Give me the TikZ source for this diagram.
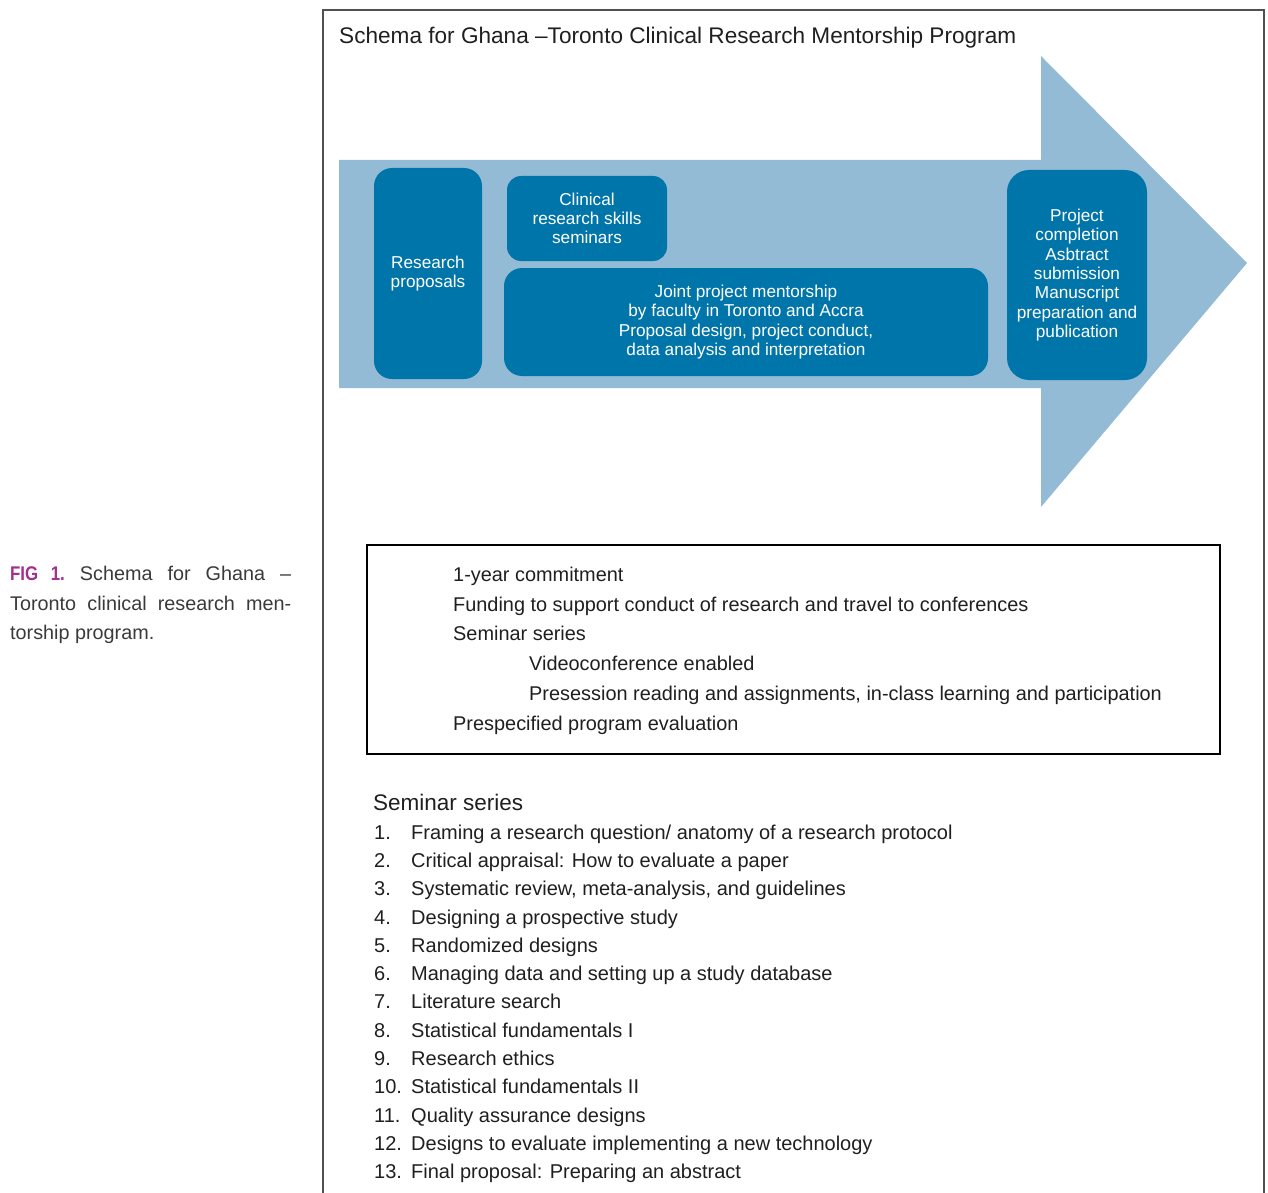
\documentclass[tikz,border=0pt]{standalone}
\usepackage{fontspec}
\setmainfont{Liberation Sans}
\usetikzlibrary{positioning}

\definecolor{arrowblue}{HTML}{93BBD6}
\definecolor{boxblue}{HTML}{0075A9}
\definecolor{figmagenta}{HTML}{A2308C}
\definecolor{captiongray}{HTML}{3A3A3A}
\definecolor{framegray}{HTML}{505050}

\begin{document}
\begin{tikzpicture}[x=1pt, y=-1pt,
  stage/.style={fill=boxblue, text=white, rounded corners=18pt, align=center,
    inner sep=0pt, font=\fontsize{17.2}{19.3}\selectfont},
  feature/.style={anchor=base west, inner sep=0pt, text=black!88,
    font=\fontsize{19.9}{24}\selectfont},
  topic/.style={anchor=base west, inner sep=0pt, text=black!88,
    font=\fontsize{20}{24}\selectfont}]

\useasboundingbox (0,0) rectangle (1268,1193);

% frame and title
\draw [framegray, line width=1.6pt] (323,1193) -- (323,10) -- (1264,10) -- (1264,1193);
\node [anchor=base west, inner sep=0pt, text=black!88, font=\fontsize{22.6}{24}\selectfont]
  (title) at (339,44) {Schema for Ghana –Toronto Clinical Research Mentorship Program};

% big arrow
\fill [arrowblue] (339,160) -- (1041,160) -- (1041,56) -- (1247,263)
  -- (1041,507) -- (1041,388) -- (339,388) -- cycle;

% stages
\node [stage, minimum width=108, minimum height=211] (proposals) at (428,273.5)
  {Research\\proposals};
\node [stage, rounded corners=14pt, minimum width=160, minimum height=85] (seminars) at (587,218.5)
  {Clinical\\research skills\\seminars};
\node [stage, minimum width=484, minimum height=108] (mentorship) at (746,322)
  {Joint project mentorship\\by faculty in Toronto and Accra\\Proposal design, project conduct,\\data analysis and interpretation};
\node [stage, rounded corners=22pt, minimum width=140, minimum height=210] (completion) at (1077,275)
  {Project\\completion\\Asbtract\\submission\\Manuscript\\preparation and\\publication};

% program features
\node [draw=black, line width=2.4pt, minimum width=853, minimum height=209, inner sep=0pt]
  (features) at (793.5,649.5) {};
\foreach \x/\t [count=\i] in {453/1-year commitment,
    453/Funding to support conduct of research and travel to conferences,
    453/Seminar series,
    529/Videoconference enabled,
    529/{Presession reading and assignments, in-class learning and participation},
    453/Prespecified program evaluation}
  \node [feature] (feature-\i) at (\x,551.5+\i*29.8) {\t};

% seminar series
\node [topic, font=\fontsize{22.5}{24}\selectfont] (series) at (373,810) {Seminar series};
\foreach \t [count=\i] in {Framing a research question/ anatomy of a research protocol,
    Critical appraisal: How to evaluate a paper,
    {Systematic review, meta-analysis, and guidelines},
    Designing a prospective study,
    Randomized designs,
    Managing data and setting up a study database,
    Literature search,
    Statistical fundamentals I,
    Research ethics,
    Statistical fundamentals II,
    Quality assurance designs,
    Designs to evaluate implementing a new technology,
    Final proposal: Preparing an abstract}
{
  \node [topic] (num-\i) at (374,810.67+\i*28.33) {\i.};
  \node [topic] (topic-\i) at (411,810.67+\i*28.33) {\t};
}

% caption
\node [anchor=north west, inner sep=0pt, text width=281, align=justify, text=captiongray,
  font=\fontsize{19.8}{29.5}\selectfont] (caption) at (10,566)
  {{\color{figmagenta}\scalebox{0.85}[1]{\bfseries FIG\hspace{0.75em}1.}} Schema for Ghana –\linebreak
   Toronto clinical research men-\linebreak torship program.};

\end{tikzpicture}
\end{document}
